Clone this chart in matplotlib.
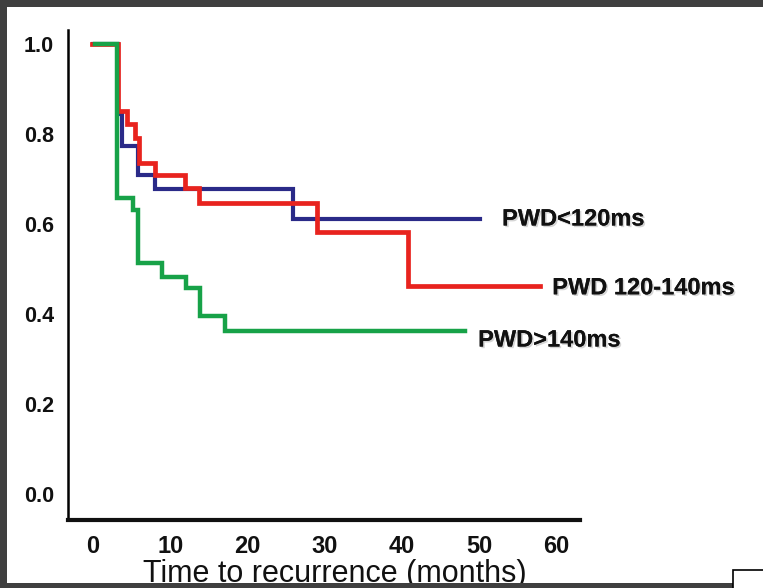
import matplotlib
matplotlib.use("Agg")
import matplotlib.pyplot as plt
from matplotlib.patches import Rectangle
import matplotlib.patheffects as pe

# Kaplan-Meier estimates (months, survival free of recurrence)
pwd_low_t = [0, 3.3, 3.8, 5.8, 8.0, 25.9, 50.1]
pwd_low_s = [1.0, 0.845, 0.773, 0.709, 0.678, 0.611, 0.611]

pwd_mid_t = [-0.1, 3.2, 4.4, 5.4, 6.0, 8.0, 11.9, 13.7, 29.0, 40.8, 57.9]
pwd_mid_s = [1.0, 0.852, 0.822, 0.791, 0.735, 0.709, 0.680, 0.647, 0.582, 0.462, 0.462]

pwd_high_t = [0.2, 3.1, 5.2, 5.8, 8.9, 12.0, 13.9, 17.1, 48.2]
pwd_high_s = [1.0, 0.658, 0.630, 0.514, 0.483, 0.457, 0.396, 0.361, 0.361]

group_labels = ["PWD<120ms", "PWD 120-140ms", "PWD>140ms"]
x_ticks = [0, 10, 20, 30, 40, 50, 60]
y_ticks = [0.0, 0.2, 0.4, 0.6, 0.8, 1.0]

W, H = 763, 588
frame = "#3f3f3f"
fig = plt.figure(figsize=(W / 100, H / 100), dpi=100, facecolor=frame)

# white slide area inside the dark frame (behind everything)
fig.patches.append(Rectangle((7 / W, 1 - 583 / H), (W - 7) / W, (583 - 7) / H,
                             transform=fig.transFigure, facecolor="white",
                             edgecolor="none", zorder=-10))
# dark bottom strip of the frame, laid over the slide content
fig.patches.append(Rectangle((0, 0), 1, 5 / H, transform=fig.transFigure,
                             facecolor=frame, edgecolor="none", zorder=10))
# small boxed glyph at the lower right corner
fig.patches.append(Rectangle((733 / W, -0.01), 40 / W, 24 / H,
                             transform=fig.transFigure, facecolor="white",
                             edgecolor="black", linewidth=1.2, zorder=11))

ax = fig.add_axes([68 / W, 1 - 520 / H, (580 - 68) / W, (520 - 30) / H])
ax.set_facecolor("none")

c_blue = "#2a2a88"
c_red = "#e8231e"
c_green = "#17a248"

ax.step(pwd_low_t, pwd_low_s, where="post", color=c_blue, lw=3.0, zorder=3,
        solid_joinstyle="miter")
ax.step(pwd_mid_t, pwd_mid_s, where="post", color=c_red, lw=3.4, zorder=4,
        solid_joinstyle="miter")
ax.step(pwd_high_t, pwd_high_s, where="post", color=c_green, lw=3.2, zorder=5,
        solid_joinstyle="miter")

ax.set_xlim(-3.24, 63.1)
ax.set_ylim(-0.058, 1.031)

for sp in ("top", "right"):
    ax.spines[sp].set_visible(False)
ax.spines["left"].set_linewidth(1.8)
ax.spines["bottom"].set_linewidth(3.0)
ax.spines["left"].set_color("black")
ax.spines["bottom"].set_color("#111111")

ax.set_xticks(x_ticks)
ax.set_xticklabels([str(v) for v in x_ticks])
ax.set_yticks(y_ticks)
ax.set_yticklabels([f"{v:.1f}" for v in y_ticks])
ax.tick_params(axis="both", length=0)
ax.tick_params(axis="y", pad=10)
ax.tick_params(axis="x", pad=11)
for lbl in ax.get_xticklabels():
    lbl.set_fontsize(17)
for lbl in ax.get_yticklabels():
    lbl.set_fontsize(15.5)
for lbl in ax.get_xticklabels() + ax.get_yticklabels():
    lbl.set_fontfamily("Liberation Sans")
    lbl.set_fontweight("bold")
    lbl.set_color("#111111")

ax.set_xlabel("Time to recurrence (months)", fontsize=22,
              fontfamily="Liberation Sans", color="#111111")
ax.xaxis.set_label_coords(0.522, -0.1265)
ax.xaxis.label.set_va("baseline")

shadow = [pe.withSimplePatchShadow(offset=(1.2, -1.2), shadow_rgbFace="#888888",
                                   alpha=0.35), pe.Normal()]
label_specs = [
    (53.0, pwd_low_s[-1], group_labels[0]),
    (59.5, pwd_mid_s[-1] - 0.004, group_labels[1]),
    (49.9, pwd_high_s[-1] - 0.019, group_labels[2]),
]
for x, y, txt in label_specs:
    ax.text(x, y, txt, ha="left", va="center", fontsize=17, fontweight="bold",
            fontfamily="Liberation Sans", color="#111111", clip_on=False,
            path_effects=shadow)

fig.savefig("out.png", dpi=100, facecolor=fig.get_facecolor())
